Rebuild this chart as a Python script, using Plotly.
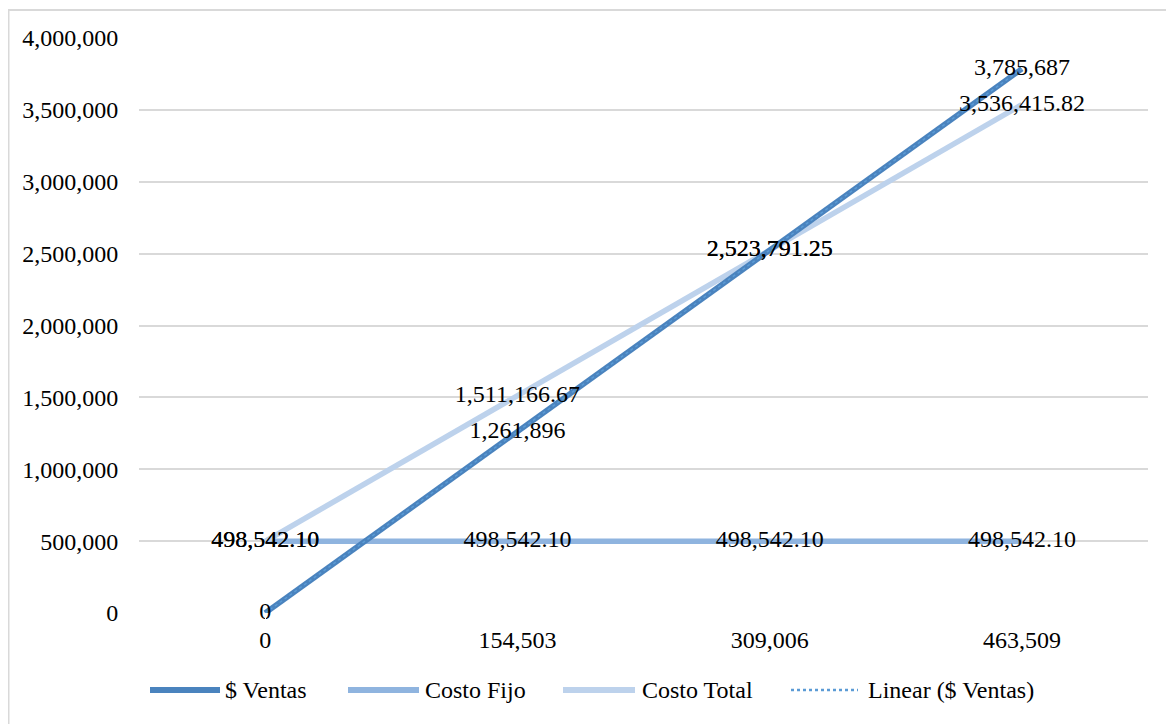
import numpy as np
import plotly.graph_objects as go

# Punto de equilibrio: unidades vs. pesos
unidades = ["0", "154,503", "309,006", "463,509"]
ventas = [0, 1261896, 2523791.25, 3785687]
costo_fijo = [498542.10, 498542.10, 498542.10, 498542.10]
costo_total = [498542.10, 1511166.67, 2523791.25, 3536415.82]

ventas_txt = ["0", "1,261,896", "2,523,791.25", "3,785,687"]
fijo_txt = ["498,542.10", "498,542.10", "498,542.10", "498,542.10"]
total_txt = ["498,542.10", "1,511,166.67", "2,523,791.25", "3,536,415.82"]

y_ticks = [0, 500000, 1000000, 1500000, 2000000, 2500000, 3000000, 3500000, 4000000]

# linear trendline of ventas
idx = np.arange(len(ventas))
m, b = np.polyfit(idx, ventas, 1)
tendencia = m * idx + b

c_ventas = "#4a83be"
c_fijo = "#8fb4df"
c_total = "#bdd2ec"
c_trend = "#5b9bd5"
font = "Liberation Serif"
fs = 24

W, H = 1166, 716
L, R, T, B = 131, 26, 30, 111
pw, ph = W - L - R, H - T - B


def px(x):  # figure pixel -> paper x
    return (x - L) / pw


def py(y):  # figure pixel -> paper y
    return (H - B - y) / ph


fig = go.Figure()

fig.add_trace(go.Scatter(x=unidades, y=costo_fijo, name="Costo Fijo", mode="lines",
                         line=dict(color=c_fijo, width=5.5)))
fig.add_trace(go.Scatter(x=unidades, y=costo_total, name="Costo Total", mode="lines",
                         line=dict(color=c_total, width=5.5)))
fig.add_trace(go.Scatter(x=unidades, y=ventas, name="$ Ventas", mode="lines",
                         line=dict(color=c_ventas, width=5.5)))
fig.add_trace(go.Scatter(x=unidades, y=tendencia, name="Linear ($ Ventas)", mode="lines",
                         line=dict(color=c_trend, width=1.5, dash="dot")))

# data labels, drawn on top of the lines
for vals, txt in [(costo_fijo, fijo_txt), (costo_total, total_txt), (ventas, ventas_txt)]:
    fig.add_trace(go.Scatter(x=unidades, y=vals, text=txt, mode="text",
                             textposition="middle center", cliponaxis=False,
                             textfont=dict(family=font, size=fs, color="black"),
                             hoverinfo="skip"))

# legend drawn by hand (Excel-style long symbols)
legend_items = [
    ("$ Ventas", c_ventas, "solid", 6, 142, 212, 215),
    ("Costo Fijo", c_fijo, "solid", 6, 340, 411, 415),
    ("Costo Total", c_total, "solid", 6, 555, 627, 632),
    ("Linear ($ Ventas)", c_trend, "dot", 2.5, 783, 850, 858),
]
ly = 682
shapes = [dict(type="rect", xref="paper", yref="paper",
               x0=px(0.5), x1=px(W + 50), y0=py(H + 50), y1=py(2),
               line=dict(color="#d9d9d9", width=2), layer="below")]
annotations = []
for name, col, dash, wdt, x0, x1, xt in legend_items:
    shapes.append(dict(type="line", xref="paper", yref="paper",
                       x0=px(x0), x1=px(x1), y0=py(ly), y1=py(ly),
                       line=dict(color=col, width=wdt, dash=dash)))
    annotations.append(dict(text=name, xref="paper", yref="paper", x=px(xt), y=py(ly),
                            xanchor="left", yanchor="middle", showarrow=False,
                            font=dict(family=font, size=fs, color="black")))

fig.update_layout(
    width=W, height=H,
    margin=dict(l=L, r=R, t=T, b=B),
    paper_bgcolor="white", plot_bgcolor="white",
    font=dict(family=font, size=fs, color="black"),
    showlegend=False,
    xaxis=dict(type="category", range=[-0.5, 3.5], showgrid=False, zeroline=False,
               showline=False, ticks="outside", ticklen=5, tickcolor="white",
               tickfont=dict(size=fs)),
    yaxis=dict(range=[0, 4000000], tickvals=y_ticks, tickformat=",",
               showgrid=True, gridcolor="#d9d9d9", gridwidth=2, zeroline=False,
               showline=False, ticks="outside", ticklen=15, tickcolor="white",
               tickfont=dict(size=fs)),
    shapes=shapes,
    annotations=annotations,
)

fig.write_html("out.html")
